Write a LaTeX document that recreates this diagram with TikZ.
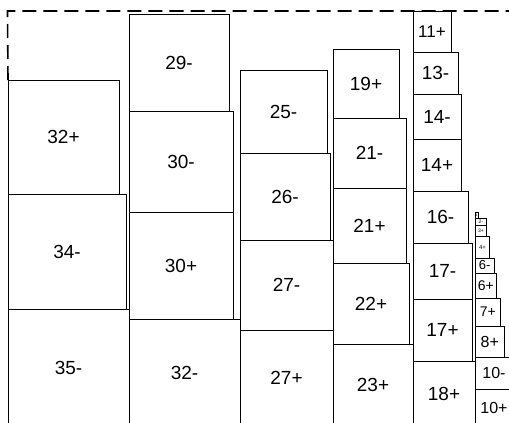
\documentclass[tikz,border=0pt]{standalone}
\usepackage{fontspec}
\setmainfont{Liberation Sans}
\usetikzlibrary{positioning}

\begin{document}
\begin{tikzpicture}[x=1pt, y=-1pt,
    font=\fontsize{19}{19}\selectfont,
    cell/.style 2 args={draw, line width=0.8pt, inner sep=0pt, outer sep=0pt,
      anchor=north west, minimum width=#1pt, minimum height=#2pt},
    frame/.style={line width=1.6pt, dash pattern=on 14pt off 7pt},
    small/.style={font=\fontsize{#1}{#1}\selectfont}]

  \useasboundingbox (0,0) rectangle (509,423);

  % column 1
  \node[cell={111}{114}] (c32p) at (8,80) {32+};
  \node[cell={118}{115}] (c34m) at (8,194) {34-};
  \node[cell={121}{117}] (c35m) at (8,309) {35-};

  % column 2
  \node[cell={100}{97}]  (c29m) at (129,14) {29-};
  \node[cell={104}{101}] (c30m) at (129,111) {30-};
  \node[cell={104}{107}] (c30p) at (129,212) {30+};
  \node[cell={111}{107}] (c32m) at (129,319) {32-};

  % column 3
  \node[cell={87}{83}] (c25m) at (240,70) {25-};
  \node[cell={90}{87}] (c26m) at (240,153) {26-};
  \node[cell={93}{90}] (c27m) at (240,240) {27-};
  \node[cell={93}{96}] (c27p) at (240,330) {27+};

  % column 4
  \node[cell={66}{69}] (c19p) at (333,49) {19+};
  \node[cell={73}{70}] (c21m) at (333,118) {21-};
  \node[cell={73}{75}] (c21p) at (333,188) {21+};
  \node[cell={76}{81}] (c22p) at (333,263) {22+};
  \node[cell={80}{82}] (c23p) at (333,344) {23+};

  % column 5
  \node[cell={38}{41}, small=17] (c11p) at (413,11) {11+};
  \node[cell={45}{42}] (c13m) at (413,52) {13-};
  \node[cell={48}{45}] (c14m) at (413,94) {14-};
  \node[cell={48}{52}] (c14p) at (413,139) {14+};
  \node[cell={55}{52}] (c16m) at (413,191) {16-};
  \node[cell={59}{56}] (c17m) at (413,243) {17-};
  \node[cell={59}{62}] (c17p) at (413,299) {17+};
  \node[cell={62}{65}] (c18p) at (413,361) {18+};

  % column 6
  \node[cell={2.5}{6}, small=3.5] (c1) at (475.5,212) {1};
  \node[cell={10.5}{7}, small=5] (c2m) at (475.5,218) {2-};
  \node[cell={11}{11}, small=5] (c3p) at (475.5,225) {3+};
  \node[cell={14}{22}, small=6] (c4p) at (475.5,236) {4+};
  \node[cell={18.5}{15}, small=13] (c6m) at (475.5,258) {6-};
  \node[cell={20.5}{25}, small=14] (c6p) at (475.5,273) {6+};
  \node[cell={24.5}{28}, small=14] (c7p) at (475.5,298) {7+};
  \node[cell={28.5}{31}, small=16] (c8p) at (475.5,326) {8+};
  \node[cell={37}{32}, small=16, text width=33.5pt, align=center] (c10m) at (475.5,357) {10-};
  \node[cell={37}{37}, small=16, text width=33.5pt, align=center] (c10p) at (475.5,389) {10+};

  % dashed outline
  \coordinate (tl) at (7.5,11);
  \coordinate (tr) at (509,11);
  \draw[frame] (c32p.north west) -- (tl) -- (tr);
\end{tikzpicture}
\end{document}
